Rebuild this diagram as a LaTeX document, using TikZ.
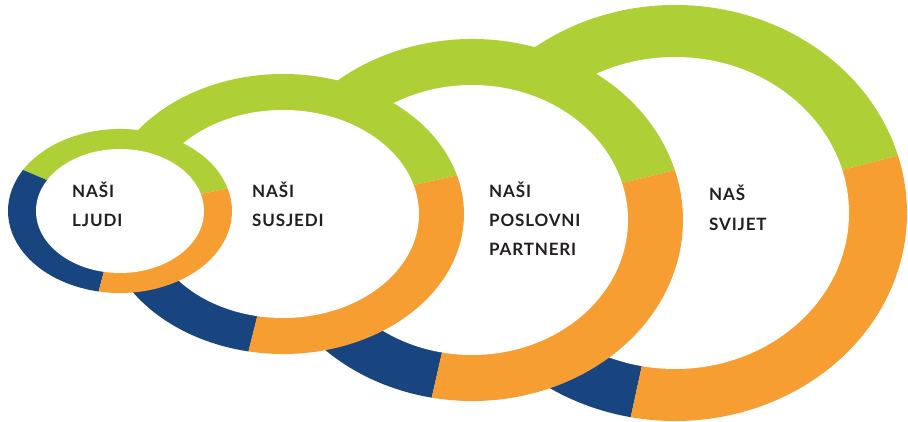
\documentclass[tikz,border=0pt]{standalone}
\usepackage{fontspec}
\newfontfamily\labelfont{Lato}[LetterSpace=5]
\definecolor{ringgreen}{HTML}{AFCF36}
\definecolor{ringorange}{HTML}{F79E33}
\definecolor{ringblue}{HTML}{18457F}
\definecolor{labelgray}{HTML}{231F20}
\tikzset{
  lbl/.style={anchor=base west, inner sep=0pt, text=labelgray,
    font=\labelfont\bfseries\fontsize{17}{20}\selectfont}
}
\begin{document}
\begin{tikzpicture}[x=1pt,y=1pt]
  \useasboundingbox (0,0) rectangle (908,422);
  % rings, largest first: centre x/y, outer radii, inner radii
  \foreach \cx/\cy/\rx/\ry/\ix/\iy in {675/209/232/208/174/156, 472/202/211/181/156/135, 283/208/181/140/136/104, 120/211/112/82/84/62} {
    \fill[ringgreen] (\cx,\cy) -- ++(16:\rx pt and \ry pt) arc[start angle=16, end angle=150, x radius=\rx, y radius=\ry] -- cycle;
    \fill[ringblue] (\cx,\cy) -- ++(150:\rx pt and \ry pt) arc[start angle=150, end angle=259, x radius=\rx, y radius=\ry] -- cycle;
    \fill[ringorange] (\cx,\cy) -- ++(259:\rx pt and \ry pt) arc[start angle=259, end angle=376, x radius=\rx, y radius=\ry] -- cycle;
    \fill[white] (\cx,\cy) ellipse[x radius=\ix, y radius=\iy];
  }
  % labels
  \node[lbl] (ljudiA) at (72,224) {NAŠI};
  \node[lbl] (ljudiB) at (72,195) {LJUDI};
  \node[lbl] (susjediA) at (252,224) {NAŠI};
  \node[lbl] (susjediB) at (252,195) {SUSJEDI};
  \node[lbl] (partneriA) at (489,224) {NAŠI};
  \node[lbl] (partneriB) at (489,195) {POSLOVNI};
  \node[lbl] (partneriC) at (489,166) {PARTNERI};
  \node[lbl] (svijetA) at (709,221) {NAŠ};
  \node[lbl] (svijetB) at (709,191) {SVIJET};
\end{tikzpicture}
\end{document}
